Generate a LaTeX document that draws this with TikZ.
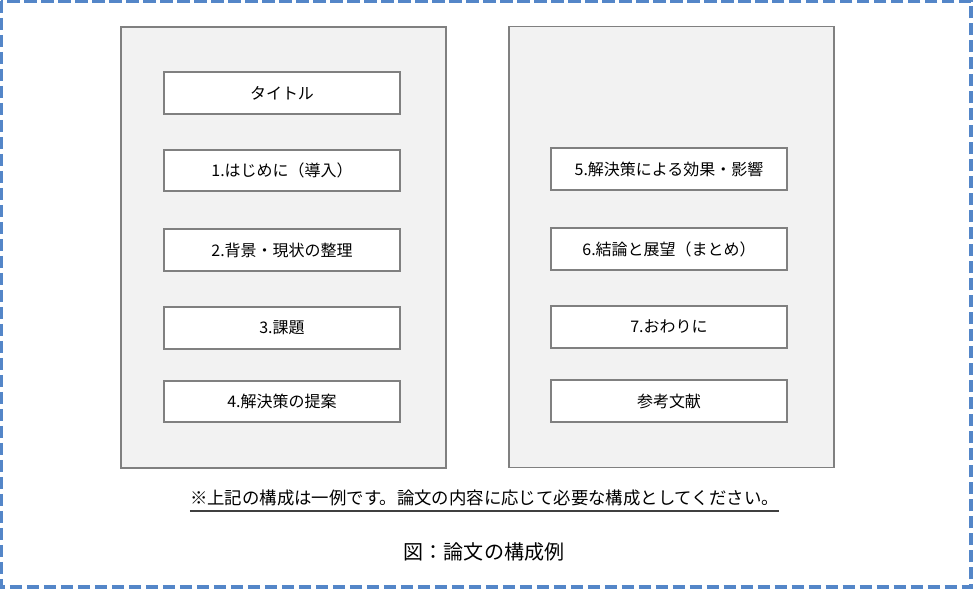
\documentclass[tikz,border=0pt]{standalone}
\usepackage{fontspec}
\newfontfamily\jp{Noto Sans CJK JP}
\definecolor{frameblue}{RGB}{84,134,200}
\definecolor{panelgray}{RGB}{242,242,242}
\definecolor{linegray}{RGB}{128,128,128}
\tikzset{
	panel/.style={draw=linegray,fill=panelgray,line width=0.035cm,minimum width=6.5cm,minimum height=8.82cm},
	item/.style={draw=linegray,fill=white,line width=0.04cm,minimum width=4.72cm,minimum height=0.84cm,font=\jp\fontsize{9.1pt}{11pt}\selectfont}
}
\begin{document}
\begin{tikzpicture}[x=0.02cm,y=-0.02cm]
		\useasboundingbox (0,0) rectangle (975,591);
		\draw[frameblue,line width=0.065cm,dash pattern=on 0.25cm off 0.09cm] (1,1) rectangle (971,587);
		\node (leftpanel) at (283.75,247.25) [panel] {};
		\node (rightpanel) at (671.5,247) [panel] {};
		% left column
		\node (title) at (282,93) [item] {タイトル};
		\node (intro) at (282,170.5) [item] {1.はじめに（導入）};
		\node (background) at (282,250) [item] {2.背景・現状の整理};
		\node (issue) at (282,328) [item] {3.課題};
		\node (proposal) at (282,401.5) [item] {4.解決策の提案};
		% right column
		\node (effect) at (669,169) [item] {5.解決策による効果・影響};
		\node (conclusion) at (669,249) [item] {6.結論と展望（まとめ）};
		\node (closing) at (669,327) [item] {7.おわりに};
		\node (references) at (669,401) [item] {参考文献};
		\node (note) at (484.5,498) [inner sep=0pt,font=\jp\fontsize{9.9pt}{11pt}\selectfont] {※上記の構成は一例です。論文の内容に応じて必要な構成としてください。};
		\draw[black!75,line width=0.035cm] ([yshift=-3.8pt]note.base west) -- ([yshift=-3.8pt]note.base east);
		\node (caption) at (484,552) [font=\jp\fontsize{11.4pt}{13pt}\selectfont] {図：論文の構成例};
		\end{tikzpicture}
\end{document}
